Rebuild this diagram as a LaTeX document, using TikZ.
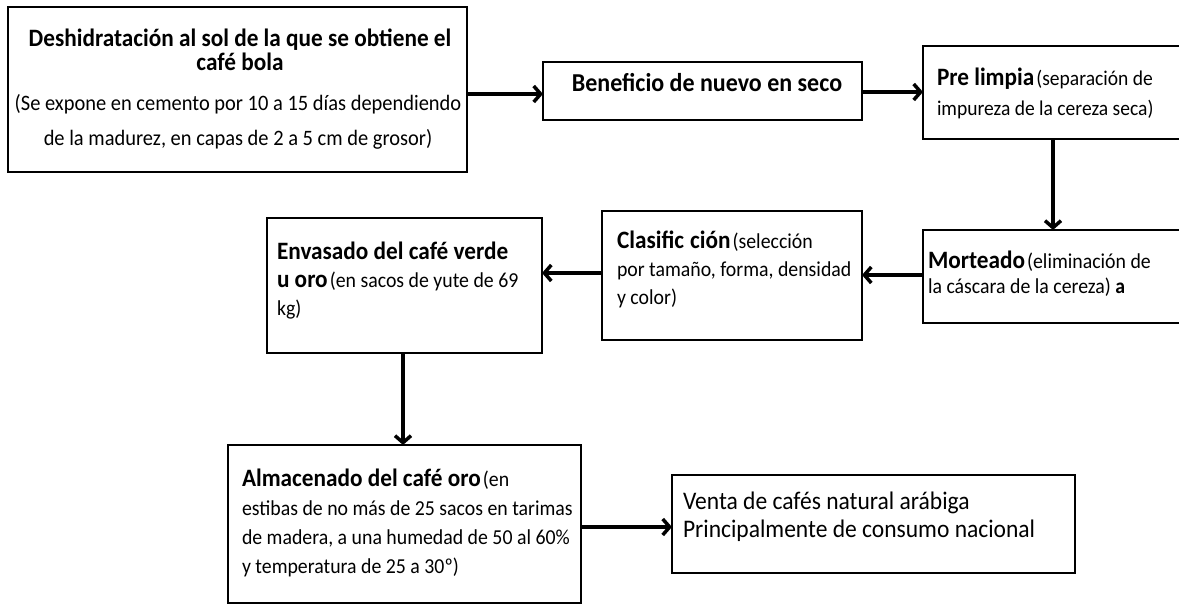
\documentclass[tikz,border=0pt]{standalone}
\usepackage{fontspec}
\setmainfont{Carlito}[FakeStretch=0.93]
\usetikzlibrary{arrows.meta}
\tikzset{
  box/.style={draw, line width=1.8pt, inner sep=0pt, outer sep=0pt, anchor=north west},
  txt/.style={inner sep=0pt, outer sep=0pt},
  conn/.style={line width=3.5pt, -{Straight Barb[length=7pt,width=16pt]}},
}
\newcommand{\bigB}{\fontsize{25}{30}\selectfont\bfseries}
\newcommand{\nrm}[1]{\fontsize{21.3}{#1}\selectfont\mdseries}
\begin{document}
\begin{tikzpicture}[x=1pt,y=-1pt]
\useasboundingbox (0,0) rectangle (1179,609);
% boxes
\node[box, minimum width=459pt, minimum height=165pt] (b1) at (8,7) {};
\node[box, minimum width=319pt, minimum height=58pt] (b2) at (543,62) {};
\node[box, minimum width=260pt, minimum height=93pt] (b3) at (923,46) {};
\node[box, minimum width=260pt, minimum height=93pt] (b4) at (923,230) {};
\node[box, minimum width=260pt, minimum height=129pt] (b5) at (602,211) {};
\node[box, minimum width=275pt, minimum height=135pt] (b6) at (267,218) {};
\node[box, minimum width=353pt, minimum height=158pt] (b7) at (228,445) {};
\node[box, minimum width=403pt, minimum height=98pt] (b8) at (672,475) {};
% texts
\node[txt, anchor=base] (t1a) at (240,47) {\bigB Deshidratación al sol de la que se obtiene el};
\node[txt, anchor=base] (t1b) at (240,71) {\bigB café bola};
\node[txt, anchor=base] (t1c) at (238,111) {\fontsize{22}{26}\selectfont (Se expone en cemento por 10 a 15 días dependiendo};
\node[txt, anchor=base] (t1d) at (238,146) {\fontsize{22}{26}\selectfont de la madurez, en capas de 2 a 5 cm de grosor)};
\node[txt, anchor=base] (t2) at (707,92) {\fontsize{25.8}{30}\selectfont\bfseries Beneficio de nuevo en seco};
\node[txt, anchor=base west] (t3) at (937,86) {\parbox[t]{240pt}{\raggedright
  {\bigB Pre limpia} \fontsize{21}{30}\selectfont(separación de\\
  impureza de la cereza seca)\par}};
\node[txt, anchor=base west] (t4) at (928,269) {\parbox[t]{250pt}{\raggedright
  {\bigB Morteado} \nrm{25}(eliminación de\\
  la cáscara de la cereza) \textbf{a}\par}};
\node[txt, anchor=base west] (t5) at (617,249) {\parbox[t]{245pt}{\raggedright
  {\bigB Clasific\hspace{6pt}ción} \nrm{28}(selección\\
  por tamaño, forma, densidad\\
  y color)\par}};
\node[txt, anchor=base west] (t6) at (277,260) {\parbox[t]{260pt}{\raggedright
  {\bigB Envasado del café verde}\\
  {\bigB u oro} \nrm{28}(en sacos de yute de 69\\
  kg)\par}};
\node[txt, anchor=base west] (t7) at (242,487) {\parbox[t]{340pt}{\raggedright
  {\bigB Almacenado del café oro} \nrm{29}(en\\
  estibas de no más de 25 sacos en tarimas\\
  de madera, a una humedad de 50 al 60\%\\
  y temperatura de 25 a 30º)\par}};
\node[txt, anchor=base west] (t8) at (683,510) {\parbox[t]{385pt}{\raggedright
  \fontsize{25.3}{28}\selectfont Venta de cafés natural arábiga\\
  Principalmente de consumo nacional\par}};
% connectors
\draw[conn] (b1.east |- 0,94) -- (b2.west |- 0,94);
\draw[conn] (b2.east |- 0,92) -- (b3.west |- 0,92);
\draw[conn] (b3.south -| 1053,0) -- (b4.north -| 1053,0);
\draw[conn] (b4.west |- 0,275) -- (b5.east |- 0,275);
\draw[conn] (b5.west |- 0,273) -- (b6.east |- 0,273);
\draw[conn] (b6.south -| 403,0) -- (b7.north -| 403,0);
\draw[conn] (b7.east |- 0,527) -- (b8.west |- 0,527);
\end{tikzpicture}
\end{document}
